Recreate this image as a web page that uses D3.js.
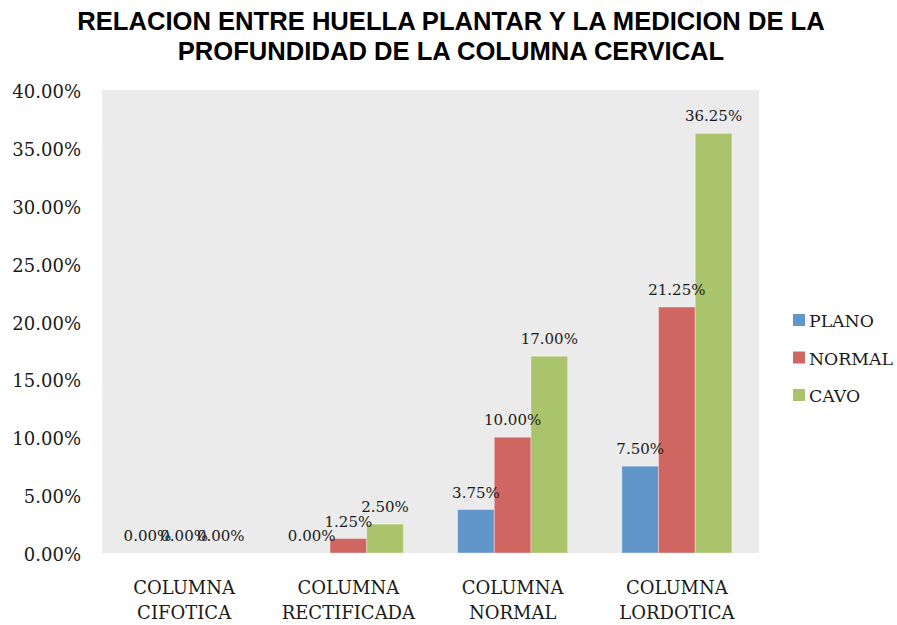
<!DOCTYPE html>
<html>
<head>
<meta charset="utf-8">
<script src="https://cdn.jsdelivr.net/npm/d3@7/dist/d3.min.js"></script>
<style>
  html, body { margin: 0; padding: 0; background: #fff; }
  svg { display: block; }
</style>
</head>
<body>
<svg id="chart" width="897" height="625"></svg>
<script>
// Chart data
const categories = [["COLUMNA", "CIFOTICA"], ["COLUMNA", "RECTIFICADA"], ["COLUMNA", "NORMAL"], ["COLUMNA", "LORDOTICA"]];
const seriesNames = ["PLANO", "NORMAL", "CAVO"];
const plano  = [0.00, 0.00, 3.75, 7.50];
const normal = [0.00, 1.25, 10.00, 21.25];
const cavo   = [0.00, 2.50, 17.00, 36.25];
const yTicks = [0, 5, 10, 15, 20, 25, 30, 35, 40];
const titleLines = ["RELACION ENTRE HUELLA PLANTAR Y LA MEDICION DE LA", "PROFUNDIDAD DE LA COLUMNA CERVICAL"];

const seriesValues = [plano, normal, cavo];
const colors = ["#6196CA", "#CF6661", "#AAC46B"];
const serifFont = "'DejaVu Serif', serif";
const textColor = "#1a1a1a";

const svg = d3.select("#chart");

// Plot area
const plot = { left: 102, right: 759, top: 90, bottom: 553 };

svg.append("rect")
  .attr("x", plot.left).attr("y", plot.top)
  .attr("width", plot.right - plot.left).attr("height", plot.bottom - plot.top)
  .attr("fill", "#EBEBEB");

const y = d3.scaleLinear().domain([0, 40]).range([plot.bottom, plot.top]);

const catKeys = categories.map((c, i) => i);
const x0 = d3.scaleBand().domain(catKeys).range([plot.left, plot.right]).padding(0);
const bw = x0.bandwidth();
const x1 = d3.scaleBand().domain(seriesNames).range([bw * 0.165, bw * 0.835]).padding(0);

// Title
const title = svg.append("g");
titleLines.forEach((t, i) => {
  title.append("text")
    .attr("x", 451).attr("y", 30 + i * 29.5)
    .attr("text-anchor", "middle")
    .attr("font-family", "'Liberation Sans', Arial, sans-serif")
    .attr("font-weight", "bold")
    .attr("font-size", "25.6px")
    .attr("fill", "#000")
    .text(t);
});

// Y axis tick labels
const yAxis = d3.axisLeft(y).tickValues(yTicks).tickSize(0).tickPadding(0)
  .tickFormat(d => d.toFixed(2) + "%");
const yg = svg.append("g").attr("transform", `translate(81,0)`).call(yAxis);
yg.select(".domain").remove();
yg.selectAll("text")
  .attr("font-family", serifFont).attr("font-size", "18px")
  .attr("fill", textColor).attr("dy", "0.42em");

// X axis category labels
const xg = svg.append("g");
categories.forEach((lines, i) => {
  const cx = x0(i) + bw / 2;
  lines.forEach((l, j) => {
    xg.append("text")
      .attr("x", cx).attr("y", 594 + j * 25)
      .attr("text-anchor", "middle")
      .attr("font-family", serifFont).attr("font-size", "18px")
      .attr("fill", textColor)
      .text(l);
  });
});

// Bars
const groups = svg.append("g").selectAll("g")
  .data(catKeys).join("g")
  .attr("transform", i => `translate(${x0(i)},0)`);

groups.selectAll("rect")
  .data(i => seriesNames.map((s, k) => ({ s, k, v: seriesValues[k][i] })))
  .join("rect")
  .attr("x", d => x1(d.s))
  .attr("y", d => y(d.v))
  .attr("width", x1.bandwidth())
  .attr("height", d => y(0) - y(d.v))
  .attr("fill", d => colors[d.k])
  .attr("stroke", d => d.v > 0 ? "rgba(255,255,255,0.35)" : "none")
  .attr("stroke-width", 1);

// Value labels
groups.selectAll("text.val")
  .data(i => seriesNames.map((s, k) => ({ s, k, v: seriesValues[k][i] })))
  .join("text")
  .attr("class", "val")
  .attr("x", d => x1(d.s) + x1.bandwidth() / 2)
  .attr("y", d => y(d.v) - 12)
  .attr("text-anchor", "middle")
  .attr("font-family", serifFont).attr("font-size", "15px")
  .attr("fill", textColor)
  .text(d => d.v.toFixed(2) + "%");

// Legend
const legend = svg.append("g");
seriesNames.forEach((s, k) => {
  const cy = 320 + k * 37.5;
  legend.append("rect")
    .attr("x", 793).attr("y", cy - 6)
    .attr("width", 12).attr("height", 12)
    .attr("fill", colors[k]);
  legend.append("text")
    .attr("x", 809).attr("y", cy + 7)
    .attr("font-family", serifFont).attr("font-size", "17.3px")
    .attr("fill", textColor)
    .text(s);
});
</script>
</body>
</html>
